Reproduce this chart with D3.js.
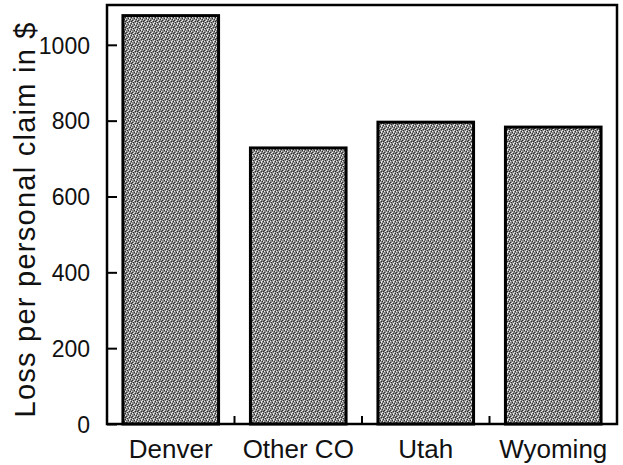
<!DOCTYPE html>
<html>
<head>
<meta charset="utf-8">
<script src="https://cdn.jsdelivr.net/npm/d3@7"></script>
<style>
  body { margin: 0; background: #fff; }
  svg { display: block; }
  text { font-family: 'Liberation Sans', Arial, Helvetica, sans-serif; fill: #111; }
</style>
</head>
<body>
<div id="chart"></div>
<script>
const regions = ['Denver', 'Other CO', 'Utah', 'Wyoming'];
const lossPerClaim = [1077, 728, 796, 783];
const yTicks = [0, 200, 400, 600, 800, 1000];
const yLabel = 'Loss per personal claim in $';

const margin = { top: 5, right: 6, bottom: 41, left: 107 };
const width = 623 - margin.left - margin.right;
const height = 465 - margin.top - margin.bottom;

const svg = d3
  .select('#chart')
  .append('svg')
  .attr('width', 623)
  .attr('height', 465);

// stippled grey fill like the scanned print
const defs = svg.append('defs');
const pat = defs
  .append('pattern')
  .attr('id', 'stipple')
  .attr('width', 6)
  .attr('height', 6)
  .attr('patternUnits', 'userSpaceOnUse');
pat.append('rect').attr('width', 6).attr('height', 6).attr('fill', '#888');
const darkDots = [[0, 0], [3, 1], [1, 3], [4, 4], [5, 2], [2, 5], [0, 4]];
const lightDots = [[1, 0], [4, 1], [0, 2], [3, 3], [5, 5], [2, 4], [4, 0]];
pat.selectAll('.d').data(darkDots).enter().append('rect')
  .attr('x', d => d[0]).attr('y', d => d[1]).attr('width', 1).attr('height', 1).attr('fill', '#2e2e2e');
pat.selectAll('.l').data(lightDots).enter().append('rect')
  .attr('x', d => d[0]).attr('y', d => d[1]).attr('width', 1).attr('height', 1).attr('fill', '#ececec');

const g = svg.append('g').attr('transform', `translate(${margin.left},${margin.top})`);

const xScale = d3
  .scaleBand()
  .domain(regions)
  .range([0, width])
  .paddingInner(0.25)
  .paddingOuter(0.125);

const yScale = d3
  .scaleLinear()
  .domain([0, 1105])
  .range([height, 0]);

// bars
g.selectAll('.bar')
  .data(regions)
  .enter()
  .append('rect')
  .attr('class', 'bar')
  .attr('x', d => xScale(d))
  .attr('y', (d, i) => yScale(lossPerClaim[i]))
  .attr('width', xScale.bandwidth())
  .attr('height', (d, i) => yScale(0) - yScale(lossPerClaim[i]))
  .attr('fill', 'url(#stipple)')
  .attr('stroke', '#000')
  .attr('stroke-width', 3);

// y axis, ticks pointing inward
const yAxis = g
  .append('g')
  .call(d3.axisLeft(yScale)
    .tickValues(yTicks)
    .tickFormat(d3.format('d'))
    .tickSizeInner(-10)
    .tickSizeOuter(0)
    .tickPadding(17));
yAxis.select('.domain').remove();
yAxis.selectAll('line').attr('stroke', '#000').attr('stroke-width', 2);
yAxis.selectAll('text').style('font-size', '23px').attr('dy', '0.36em');

// x axis labels
const xAxis = g
  .append('g')
  .attr('transform', `translate(0,${height})`)
  .call(d3.axisBottom(xScale).tickSize(0).tickPadding(16));
xAxis.select('.domain').remove();
xAxis.selectAll('text').style('font-size', '26px');

// boundary ticks between categories
const boundaries = regions.slice(1).map(d => xScale(d) - (xScale.step() * xScale.paddingInner()) / 2);
g.selectAll('.xtick')
  .data(boundaries)
  .enter()
  .append('line')
  .attr('x1', d => d)
  .attr('x2', d => d)
  .attr('y1', height)
  .attr('y2', height - 8)
  .attr('stroke', '#000')
  .attr('stroke-width', 2);

// frame
g.append('rect')
  .attr('width', width)
  .attr('height', height)
  .attr('fill', 'none')
  .attr('stroke', '#000')
  .attr('stroke-width', 2.5);

// y axis title
svg
  .append('text')
  .attr('transform', `translate(35,${margin.top + 215}) rotate(-90)`)
  .attr('text-anchor', 'middle')
  .attr('textLength', 395)
  .attr('lengthAdjust', 'spacing')
  .style('font-size', '29px')
  .text(yLabel);
</script>
</body>
</html>
